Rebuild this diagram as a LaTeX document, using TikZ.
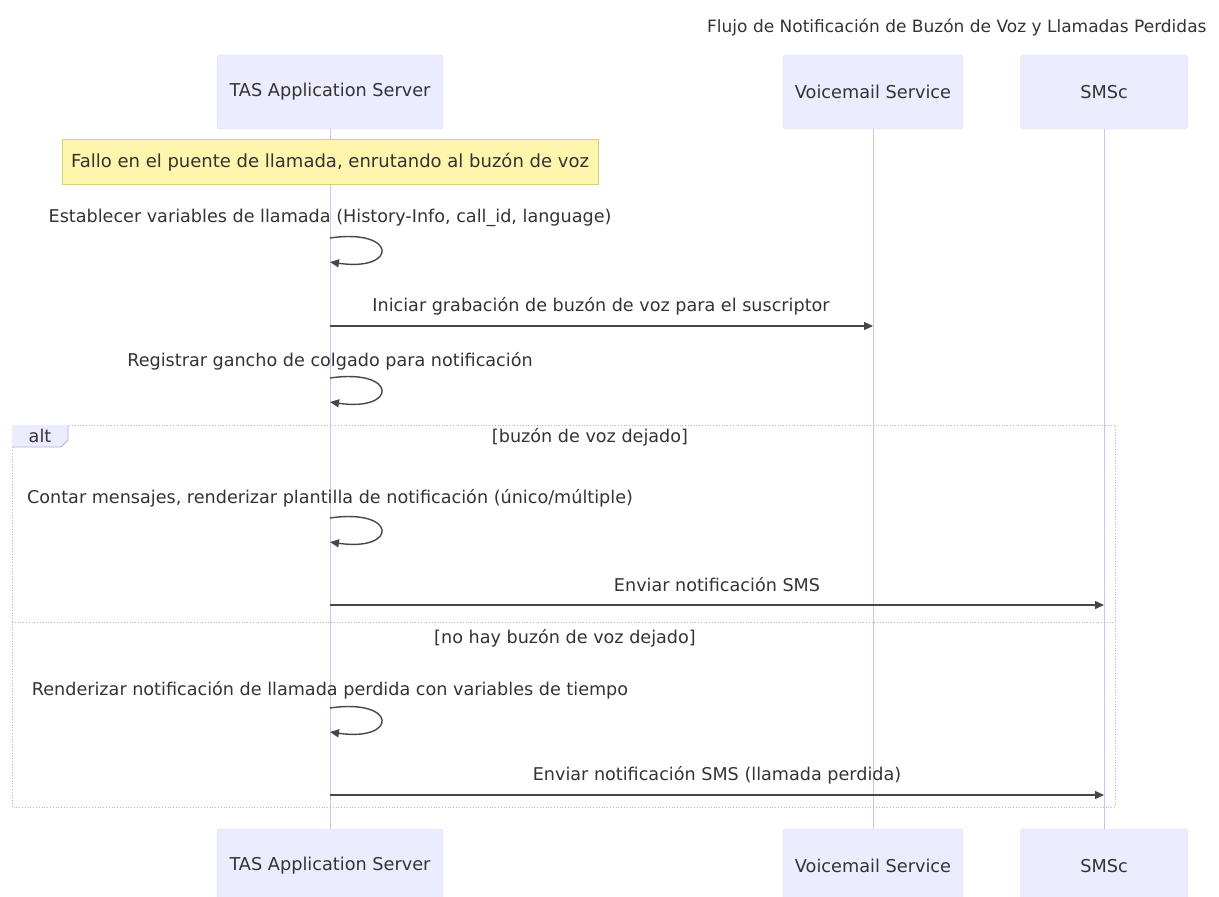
\documentclass[tikz,border=0pt]{standalone}
\usepackage{fontspec}
\setmainfont{DejaVu Sans}
\usetikzlibrary{arrows.meta}
\definecolor{actfill}{HTML}{ECECFF}
\definecolor{actline}{HTML}{D8D4F4}
\definecolor{lifeline}{HTML}{C9C3EE}
\definecolor{notefill}{HTML}{FFF5AD}
\definecolor{noteline}{HTML}{D6D27A}
\definecolor{txt}{HTML}{333333}
\definecolor{loopline}{HTML}{B4B0E0}
\tikzset{
  actorbox/.style={draw=actline, fill=actfill, rounded corners=3pt, minimum width=#1, minimum height=74pt, font=\fontsize{17.7}{20}\selectfont, text=txt},
  notebox/.style={draw=noteline, fill=notefill, minimum height=45pt, font=\fontsize{18}{20}\selectfont, text=txt, inner xsep=8pt},
  lbl/.style={font=\fontsize{17.6}{20}\selectfont, text=txt},
  msg/.style={draw=txt!90, line width=1.4pt, -{Triangle[length=9pt,width=8pt]}},
  lifel/.style={draw=lifeline, line width=0.8pt},
  framel/.style={draw=loopline, line width=0.8pt, dotted}
}
\begin{document}
\begin{tikzpicture}[x=1pt,y=-1pt]
\useasboundingbox (0,0) rectangle (1219,897);
% titulo
\node[lbl, anchor=east, font=\fontsize{17}{20}\selectfont] (titulo) at (1210,27) {Flujo de Notificación de Buzón de Voz y Llamadas Perdidas};
% participantes
\node[actorbox=226pt] (tas) at (330,92) {TAS Application Server};
\node[actorbox=180pt] (vm) at (873,92) {Voicemail Service};
\node[actorbox=167pt] (sms) at (1104,92) {SMSc};
\node[actorbox=226pt] (tasB) at (330,866) {TAS Application Server};
\node[actorbox=180pt] (vmB) at (873,866) {Voicemail Service};
\node[actorbox=167pt] (smsB) at (1104,866) {SMSc};
% lineas de vida
\draw[lifel] (tas) -- (tasB);
\draw[lifel] (vm) -- (vmB);
\draw[lifel] (sms) -- (smsB);
% nota
\node[notebox, minimum width=536pt] (nota) at (330,162) {Fallo en el puente de llamada, enrutando al buzón de voz};
% bloque alt
\draw[framel] (12,425) rectangle (1115,807);
\draw[framel] (12,622) -- (1115,622);
\fill[actfill] (12,425) -- (68,425) -- (68,440) -- (61,447) -- (12,447) -- cycle;
\draw[loopline, line width=0.8pt] (12,447) -- (61,447) -- (68,440) -- (68,425);
\node[lbl] (alt) at (40,436) {alt};
\node[lbl] (cond1) at (590,437) {[buzón de voz dejado]};
\node[lbl] (cond2) at (565,638) {[no hay buzón de voz dejado]};
% mensajes
\coordinate (a1) at (330,238); \coordinate (b1) at (330,262);
\node[lbl] (m1) at (330,218) {Establecer variables de llamada (History-Info, call\_id, language)};
\draw[msg] (a1) .. controls (398,228) and (398,272) .. (b1);
\coordinate (a2) at (330,326); \coordinate (b2) at (873,326);
\node[lbl] (m2) at (601,306) {Iniciar grabación de buzón de voz para el suscriptor};
\draw[msg] (a2) -- (b2);
\coordinate (a3) at (330,378); \coordinate (b3) at (330,402);
\node[lbl] (m3) at (330,361) {Registrar gancho de colgado para notificación};
\draw[msg] (a3) .. controls (398,368) and (398,412) .. (b3);
\coordinate (a4) at (330,518); \coordinate (b4) at (330,542);
\node[lbl] (m4) at (330,498) {Contar mensajes, renderizar plantilla de notificación (único/múltiple)};
\draw[msg] (a4) .. controls (398,508) and (398,552) .. (b4);
\coordinate (a5) at (330,605); \coordinate (b5) at (1104,605);
\node[lbl] (m5) at (717,585) {Enviar notificación SMS};
\draw[msg] (a5) -- (b5);
\coordinate (a6) at (330,708); \coordinate (b6) at (330,732);
\node[lbl] (m6) at (330,690) {Renderizar notificación de llamada perdida con variables de tiempo};
\draw[msg] (a6) .. controls (398,698) and (398,742) .. (b6);
\coordinate (a7) at (330,795); \coordinate (b7) at (1104,795);
\node[lbl] (m7) at (717,775) {Enviar notificación SMS (llamada perdida)};
\draw[msg] (a7) -- (b7);
\end{tikzpicture}
\end{document}
